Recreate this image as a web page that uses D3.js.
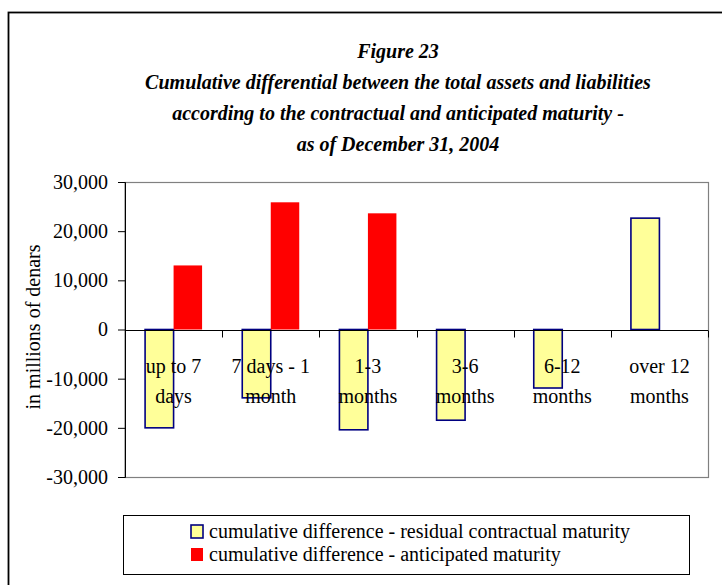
<!DOCTYPE html>
<html>
<head>
<meta charset="utf-8">
<script src="https://cdn.jsdelivr.net/npm/d3@7/dist/d3.min.js"></script>
<style>
  body { margin: 0; background: #fff; }
  svg { display: block; }
  text { font-family: "Liberation Serif", "Times New Roman", serif; fill: #000; }
</style>
</head>
<body>
<svg id="chart" width="722" height="585"></svg>
<script>
// ---- data ----
const categories = ["up to 7 days", "7 days - 1 month", "1-3 months", "3-6 months", "6-12 months", "over 12 months"];
const categoryLines = [["up to 7", "days"], ["7 days - 1", "month"], ["1-3", "months"], ["3-6", "months"], ["6-12", "months"], ["over 12", "months"]];
const residual = [-20000, -13900, -20400, -18450, -11900, 22650];
const anticipated = [13030, 25870, 23630, null, null, null];
const yTicks = [-30000, -20000, -10000, 0, 10000, 20000, 30000];
const seriesNames = ["cumulative difference - residual contractual maturity", "cumulative difference - anticipated maturity"];
const titleLines = ["Figure 23", "Cumulative differential between the total assets and liabilities", "according to the contractual and anticipated maturity -", "as of December 31, 2004"];
const yTitle = "in millions of denars";

const svg = d3.select("#chart");

// outer frame (cut by the right and bottom edges)
svg.append("rect").attr("x", 8.5).attr("y", 12.5).attr("width", 740).attr("height", 600)
  .attr("fill", "none").attr("stroke", "#000").attr("stroke-width", 1.8);

// title
const title = svg.append("g");
titleLines.forEach((t, i) => {
  title.append("text").attr("x", 398).attr("y", 58 + i * 31)
    .attr("text-anchor", "middle").attr("font-size", 20)
    .attr("font-weight", "bold").attr("font-style", "italic").text(t);
});

// plot area
const plot = { left: 125, right: 708, top: 182, bottom: 477 };
const x = d3.scaleBand().domain(categories).range([plot.left, plot.right]).paddingInner(0).paddingOuter(0);
const y = d3.scaleLinear().domain([-30000, 30000]).range([plot.bottom, plot.top]);
const barW = x.bandwidth() / (2 + 1.41);
const groupOff = (x.bandwidth() - 2 * barW) / 2;

// plot border
svg.append("rect").attr("x", plot.left).attr("y", plot.top + 0.5)
  .attr("width", plot.right - plot.left + 0.5).attr("height", plot.bottom - plot.top)
  .attr("fill", "none").attr("stroke", "#808080").attr("stroke-width", 1.2);

// bars: residual (yellow) and anticipated (red)
svg.append("g").selectAll("rect").data(residual).join("rect")
  .attr("x", (d, i) => x(categories[i]) + groupOff)
  .attr("y", d => y(Math.max(0, d)))
  .attr("width", barW)
  .attr("height", d => Math.abs(y(d) - y(0)))
  .attr("fill", "#FFFF99").attr("stroke", "#000080").attr("stroke-width", 1.6);

svg.append("g").selectAll("rect").data(anticipated.map((v, i) => ({ v, i })).filter(d => d.v != null)).join("rect")
  .attr("x", d => x(categories[d.i]) + groupOff + barW)
  .attr("y", d => y(Math.max(0, d.v)))
  .attr("width", barW)
  .attr("height", d => Math.abs(y(d.v) - y(0)))
  .attr("fill", "#FF0000");

// y axis
const yAxis = d3.axisLeft(y).tickValues(yTicks).tickSize(7).tickPadding(10)
  .tickFormat(d => d3.format(",")(d).replace("\u2212", "-"));
const gy = svg.append("g").attr("transform", `translate(${plot.left},0)`).call(yAxis);
gy.select(".domain").attr("stroke", "#000").attr("stroke-width", 1);
gy.selectAll(".tick line").attr("stroke", "#000");
gy.selectAll(".tick text").attr("font-size", 20).attr("font-family", "Liberation Serif, serif").attr("fill", "#000");

// zero line (category axis) and ticks
const y0 = Math.round(y(0)) + 0.5;
svg.append("line").attr("x1", plot.left).attr("x2", plot.right).attr("y1", y0).attr("y2", y0)
  .attr("stroke", "#000").attr("stroke-width", 1.2);
const bounds = categories.map(c => x(c)).concat([plot.right]);
svg.append("g").selectAll("line").data(bounds).join("line")
  .attr("x1", d => Math.round(d) + 0.5).attr("x2", d => Math.round(d) + 0.5)
  .attr("y1", y0).attr("y2", y0 + 7).attr("stroke", "#000").attr("stroke-width", 1);

// category labels
const cl = svg.append("g");
categoryLines.forEach((lines, i) => {
  lines.forEach((t, j) => {
    cl.append("text").attr("x", x(categories[i]) + x.bandwidth() / 2)
      .attr("y", y0 + 42 + j * 30).attr("text-anchor", "middle").attr("font-size", 20).text(t);
  });
});

// y axis title
svg.append("text").attr("transform", `translate(40,327) rotate(-90)`)
  .attr("text-anchor", "middle").attr("font-size", 20).text(yTitle);

// legend
svg.append("rect").attr("x", 123.5).attr("y", 515.5).attr("width", 566).attr("height", 59)
  .attr("fill", "#fff").attr("stroke", "#000").attr("stroke-width", 1);
const legColors = [{ fill: "#FFFF99", stroke: "#000080" }, { fill: "#FF0000", stroke: "none" }];
seriesNames.forEach((s, i) => {
  svg.append("rect").attr("x", 191).attr("y", 525 + i * 23).attr("width", 12).attr("height", 13)
    .attr("fill", legColors[i].fill).attr("stroke", legColors[i].stroke).attr("stroke-width", 1.6);
  svg.append("text").attr("x", 209).attr("y", 538 + i * 23).attr("font-size", 20).text(s);
});
</script>
</body>
</html>
